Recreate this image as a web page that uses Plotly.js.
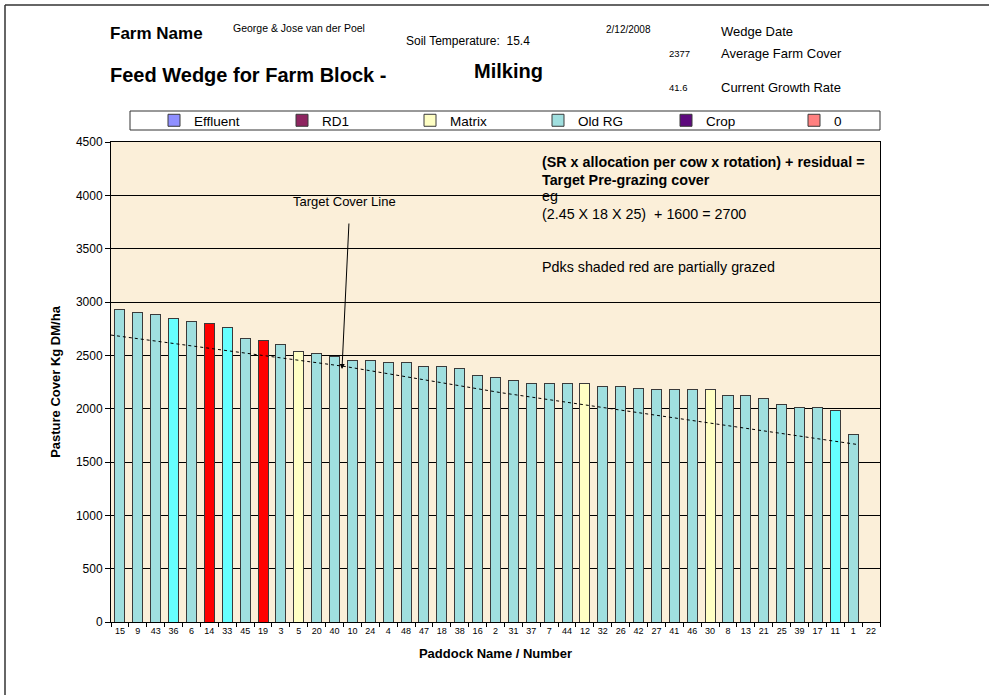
<!DOCTYPE html>
<html>
<head>
<meta charset="utf-8">
<script src="https://cdn.plot.ly/plotly-3.0.1.min.js"></script>
<style>
html,body{margin:0;padding:0;background:#fff;}
#chart{width:989px;height:695px;}
</style>
</head>
<body>
<div id="chart"></div>
<script>
// ---- data ----
const paddocks = ["15","9","43","36","6","14","33","45","19","3","5","20","40","10","24","4","48","47","18","38","16","2","31","37","7","44","12","32","26","42","27","41","46","30","8","13","21","25","39","17","11","1","22"];
const cover = [2930,2905,2880,2850,2820,2795,2765,2655,2635,2600,2540,2515,2485,2455,2455,2430,2430,2400,2400,2375,2315,2290,2260,2235,2235,2235,2235,2205,2205,2190,2180,2180,2180,2180,2120,2120,2095,2040,2015,2015,1980,1760,null];
const matrixPaddocks = ["5","12","30"];
const partiallyGrazed = ["14","19"];
const highlighted = ["36","33","11"];
const seriesNames = ["Effluent","RD1","Matrix","Old RG","Crop","0"];
// target cover line, read points (category position, cover)
const targetPos = [-0.5, 12.6, 21.3, 41.2];
const targetCover = [2690, 2395, 2150, 1665];

// ---- styles ----
const seriesColors = {"Effluent":"#8F8FFF","RD1":"#8E2560","Matrix":"#FFFFC4","Old RG":"#A0DFDF","Crop":"#5E0A7E","0":"#FF8080"};
const FONT = "Liberation Sans, Arial, sans-serif";
const W=989, H=695;
const L=111, R=880, T=142, B=622;
const px = x => (x-L)/(R-L);
const py = y => (B-y)/(B-T);

const traces = seriesNames.map(name => {
  let y, colors;
  if (name === "Matrix") {
    y = paddocks.map((p,i) => matrixPaddocks.includes(p) ? cover[i] : null);
    colors = seriesColors[name];
  } else if (name === "Old RG") {
    y = paddocks.map((p,i) => matrixPaddocks.includes(p) ? null : cover[i]);
    colors = paddocks.map(p => partiallyGrazed.includes(p) ? "#FF0000" : (highlighted.includes(p) ? "#66FFFF" : seriesColors[name]));
  } else {
    y = paddocks.map(() => null);
    colors = seriesColors[name];
  }
  return {
    type: "bar", name: name, x: paddocks, y: y,
    marker: {color: colors, line: {color: "#3a3a3a", width: 1}},
    hoverinfo: "x+y"
  };
});

traces.push({
  type: "scatter", mode: "lines", x: targetPos, y: targetCover, xaxis: "x2",
  line: {color: "#000", width: 1, dash: "3px,3px"}, showlegend: false, hoverinfo: "skip"
});

function txt(text, left, cy, size, bold, extra) {
  return Object.assign({
    text: bold ? "<b>"+text+"</b>" : text,
    xref: "paper", yref: "paper", x: px(left), y: py(cy),
    xanchor: "left", yanchor: "middle", showarrow: false,
    font: {family: FONT, size: size, color: "#000"}
  }, extra || {});
}

const annotations = [
  txt("Farm Name", 108, 33, 17, true),
  txt("George &amp; Jose van der Poel", 231, 28, 10.5, false),
  txt("Soil Temperature:  15.4", 404, 41, 12, false),
  txt("2/12/2008", 604, 29, 10, false),
  txt("Wedge Date", 719, 31, 13, false),
  txt("2377", 667, 53, 9.5, false),
  txt("Average Farm Cover", 719, 53, 13, false),
  txt("Feed Wedge for Farm Block -", 108, 75, 20, true),
  txt("Milking", 472, 71, 20, true),
  txt("41.6", 667, 88, 9.5, false),
  txt("Current Growth Rate", 719, 88, 13, false),
  txt("(SR x allocation per cow x rotation) + residual =", 540, 162, 14.3, true),
  txt("Target Pre-grazing cover", 540, 180, 14.3, true),
  txt("eg", 540, 196, 14.3, false),
  txt("(2.45 X 18 X 25)  + 1600 = 2700", 540, 214, 14.3, false),
  txt("Pdks shaded red are partially grazed", 540, 267, 14.3, false),
  txt("Target Cover Line", 344, 201, 13, false, {xanchor: "center"}),
  {
    text: "", xref: "paper", yref: "paper", x: px(342), y: py(369),
    axref: "pixel", ayref: "pixel", ax: 7, ay: -147,
    showarrow: true, arrowhead: 2, arrowsize: 1, arrowwidth: 1, arrowcolor: "#000", standoff: 0
  }
];

const layout = {
  width: W, height: H,
  margin: {l: L, r: W-R, t: T, b: H-B, pad: 0, autoexpand: false},
  paper_bgcolor: "#ffffff",
  plot_bgcolor: "#FBEFD9",
  barmode: "stack",
  bargap: 0.44,
  showlegend: true,
  font: {family: FONT, color: "#000"},
  legend: {
    orientation: "h",
    x: px(154), xanchor: "left", y: py(105), yanchor: "top",
    entrywidth: 83, entrywidthmode: "pixels", itemwidth: 30,
    bgcolor: "rgba(0,0,0,0)", borderwidth: 0,
    font: {family: FONT, size: 13.5, color: "#000"}, traceorder: "normal"
  },
  xaxis: {
    type: "category", tickson: "boundaries", ticks: "outside", ticklen: 4, tickcolor: "#000",
    tickangle: 0,
    showline: true, linecolor: "#000", linewidth: 1, mirror: true,
    showgrid: false, tickfont: {family: FONT, size: 9, color: "#000"},
    title: {text: "<b>Paddock Name / Number</b>", font: {family: FONT, size: 13, color: "#000"}, standoff: 14},
    fixedrange: true
  },
  xaxis2: {
    overlaying: "x", range: [-0.5, paddocks.length - 0.5], visible: false, fixedrange: true
  },
  yaxis: {
    range: [0, 4500], dtick: 500, tick0: 0, ticks: "outside", ticklen: 5, tickcolor: "#000",
    showline: true, linecolor: "#000", linewidth: 1, mirror: true,
    showgrid: true, gridcolor: "#000", gridwidth: 1, zeroline: false,
    tickfont: {family: FONT, size: 12, color: "#000"},
    title: {text: "<b>Pasture Cover Kg DM/ha</b>", font: {family: FONT, size: 13, color: "#000"}, standoff: 12},
    fixedrange: true
  },
  shapes: [
    {type: "rect", xref: "paper", yref: "paper", x0: px(130), x1: px(880), y0: py(111), y1: py(130),
     line: {color: "#333", width: 1}, fillcolor: "rgba(0,0,0,0)", layer: "below"},
    {type: "line", xref: "paper", yref: "paper", x0: px(5), x1: px(989), y0: py(5), y1: py(5), line: {color: "#333", width: 1.5}},
    {type: "line", xref: "paper", yref: "paper", x0: px(5), x1: px(5), y0: py(5), y1: py(695), line: {color: "#333", width: 1.5}}
  ],
  annotations: annotations
};

Plotly.newPlot("chart", traces, layout, {displayModeBar: false, staticPlot: true});
</script>
</body>
</html>
